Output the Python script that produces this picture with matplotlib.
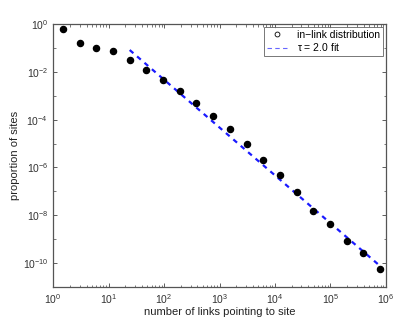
import numpy as np
import matplotlib
matplotlib.use("Agg")
import matplotlib.pyplot as plt

plt.rcParams['font.family'] = ['Liberation Sans', 'DejaVu Sans']
plt.rcParams['mathtext.fontset'] = 'custom'
plt.rcParams['mathtext.rm'] = 'Liberation Sans'
plt.rcParams['mathtext.it'] = 'Liberation Sans'

# in-link distribution (log-binned)
links = [1.5, 3, 6, 12, 24, 48, 96, 192, 384, 768, 1536, 3072, 6144, 12288,
         24576, 49152, 98304, 196608, 393216, 786432]
proportion = [0.62, 0.16, 0.095, 0.071, 0.030, 0.012, 0.0045, 0.00155,
              0.0005, 0.000148, 4.0e-5, 9.5e-6, 2.1e-6, 4.8e-7, 9.3e-8,
              1.48e-8, 4.5e-9, 8.5e-10, 2.6e-10, 6.0e-11]

# tau = 2.0 fit line
fit_x = [24, 786432]
fit_y = [0.081, 7.6e-11]

xdecades = [0, 1, 2, 3, 4, 5, 6]
ydecades = [0, -2, -4, -6, -8, -10]

fig = plt.figure(figsize=(4.15, 3.23), dpi=100)
ax = fig.add_axes([0.128, 0.111, 0.802, 0.815])

ax.loglog(links, proportion, 'o', color='black', markersize=4.4, zorder=3)
ax.loglog(fit_x, fit_y, '--', color='#1a1aff', linewidth=1.6, dashes=(2.2, 2.2))

# legend handles: open circle and dashed line
h1, = ax.plot([], [], 'o', mfc='none', mec='black', markersize=3.5, mew=0.6)
h2, = ax.plot([], [], '--', color='#6666ff', linewidth=0.8, dashes=(4, 3))
leg = ax.legend([h1, h2], ['in\u2212link distribution', r'$\tau$ = 2.0 fit'],
                loc='upper right', fontsize=7.5, frameon=True, fancybox=False,
                edgecolor='#555555', borderpad=0.25, handlelength=2.0,
                handletextpad=0.9, labelspacing=0.15,
                bbox_to_anchor=(0.99, 0.988), borderaxespad=0)
leg.get_frame().set_linewidth(0.7)

ax.set_xlim(1, 1e6)
ax.set_ylim(1e-11, 1)
xminor = [m * 10.0 ** d for d in xdecades[:-1] for m in range(2, 10)]
yminor = [10.0 ** d for d in [-1, -3, -5, -7, -9, -11]]
ax.set_xticks([10.0 ** d for d in xdecades])
ax.set_xticklabels(['$10^{%d}$' % d for d in xdecades])
ax.set_xticks(xminor, minor=True)
ax.set_xticklabels([''] * len(xminor), minor=True)
ax.set_yticks([10.0 ** d for d in ydecades])
ax.set_yticklabels(['$10^{%d}$' % d for d in ydecades])
ax.set_yticks(yminor, minor=True)
ax.set_yticklabels([''] * len(yminor), minor=True)

ax.tick_params(which='both', direction='in', top=True, right=True,
               colors='#444444', labelcolor='#333333', labelsize=7.5)
ax.tick_params(which='major', length=3, width=0.6)
ax.tick_params(which='minor', length=1.8, width=0.5)
for s in ax.spines.values():
    s.set_color('#555555')
    s.set_linewidth(0.9)

ax.set_xlabel('number of links pointing to site', fontsize=8, color='#222222', labelpad=1)
ax.set_ylabel('proportion of sites', fontsize=8, color='#222222', labelpad=0)
ax.yaxis.set_label_coords(-0.1, 0.5)

fig.savefig('out.png', dpi=100)
